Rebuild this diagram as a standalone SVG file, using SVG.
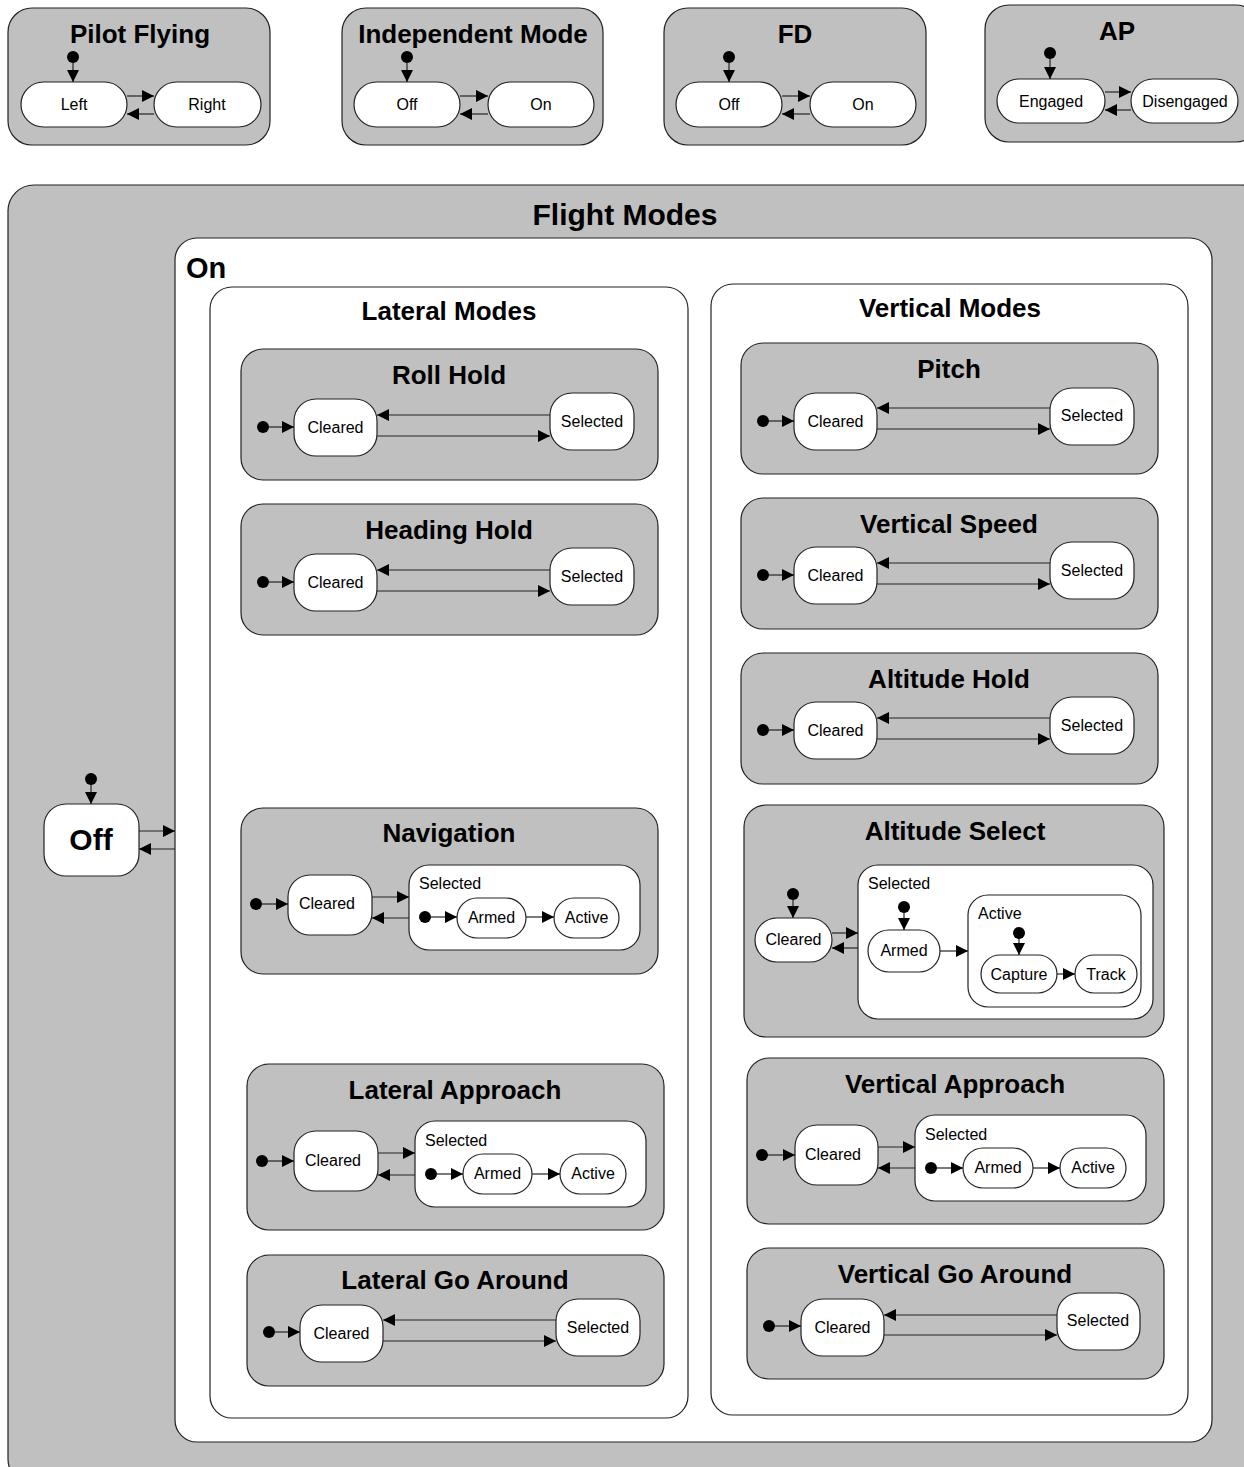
<svg xmlns="http://www.w3.org/2000/svg" width="1244" height="1467" viewBox="0 0 1244 1467">
<style>
.g{fill:#c0c0c0;stroke:#222;stroke-width:1.2}
.w{fill:#fff;stroke:#222;stroke-width:1.2}
.t{font-family:"Liberation Sans",Arial,sans-serif;font-weight:bold;font-size:26px;text-anchor:middle;fill:#000}
.s{font-family:"Liberation Sans",Arial,sans-serif;font-size:16px;text-anchor:middle;fill:#000}
.sl{font-family:"Liberation Sans",Arial,sans-serif;font-size:16px;fill:#000}
.c{stroke:#222;stroke-width:1.2;fill:none;marker-end:url(#a)}
.d{fill:#000}
</style>
<defs>
<marker id="a" markerUnits="userSpaceOnUse" markerWidth="12" markerHeight="12" refX="12" refY="6" orient="auto"><path d="M0,0 L12,6 L0,12 z" fill="#000"/></marker>
</defs>
<rect width="1244" height="1467" fill="#fff"/>

<!-- Top regions -->
<g id="pilot-flying">
<rect class="g" x="8" y="8" width="262" height="137" rx="24"/>
<text class="t" x="140" y="43">Pilot Flying</text>
<g id="pf-left"><rect class="w" x="21" y="82" width="106" height="45" rx="22.5"/><text class="s" x="74" y="110">Left</text></g>
<g id="pf-right"><rect class="w" x="154" y="82" width="107" height="45" rx="22.5"/><text class="s" x="207" y="110">Right</text></g>
</g>
<g id="independent-mode">
<rect class="g" x="342" y="8" width="261" height="137" rx="24"/>
<text class="t" x="473" y="43">Independent Mode</text>
<g id="im-off"><rect class="w" x="354" y="82" width="106" height="45" rx="22.5"/><text class="s" x="407" y="110">Off</text></g>
<g id="im-on"><rect class="w" x="488" y="82" width="106" height="45" rx="22.5"/><text class="s" x="541" y="110">On</text></g>
</g>
<g id="fd">
<rect class="g" x="664" y="8" width="262" height="137" rx="24"/>
<text class="t" x="795" y="43">FD</text>
<g id="fd-off"><rect class="w" x="676" y="82" width="106" height="45" rx="22.5"/><text class="s" x="729" y="110">Off</text></g>
<g id="fd-on"><rect class="w" x="810" y="82" width="106" height="45" rx="22.5"/><text class="s" x="863" y="110">On</text></g>
</g>
<g id="ap">
<rect class="g" x="985" y="5" width="275" height="137" rx="24"/>
<text class="t" x="1117" y="40">AP</text>
<g id="ap-engaged"><rect class="w" x="997" y="79" width="108" height="44" rx="22"/><text class="s" x="1051" y="107">Engaged</text></g>
<g id="ap-disengaged"><rect class="w" x="1131" y="79" width="107" height="44" rx="22"/><text class="s" x="1185" y="107">Disengaged</text></g>
</g>

<!-- Flight Modes -->
<g id="flight-modes">
<rect class="g" x="8" y="185" width="1260" height="1300" rx="26"/>
<text class="t" x="625" y="225" style="font-size:30px">Flight Modes</text>
</g>
<g id="fm-off">
<rect class="w" x="44" y="804" width="95" height="72" rx="22"/>
<text class="t" x="91" y="850" style="font-size:30px">Off</text>
</g>
<g id="fm-on">
<rect class="w" x="175" y="238" width="1037" height="1204" rx="22"/>
<text class="t" x="186" y="278" style="font-size:29px;text-anchor:start">On</text>
</g>
<g id="lateral-modes">
<rect class="w" x="210" y="287" width="478" height="1131" rx="22"/>
<text class="t" x="449" y="320">Lateral Modes</text>
</g>
<g id="vertical-modes">
<rect class="w" x="711" y="284" width="477" height="1131" rx="22"/>
<text class="t" x="950" y="317">Vertical Modes</text>
</g>

<!-- Simple mode boxes -->
<g id="roll-hold" transform="translate(241,349)">
<rect class="g" x="0" y="0" width="417" height="131" rx="22"/>
<text class="t" x="208" y="35">Roll Hold</text>
<circle class="d" cx="22" cy="78" r="6"/>
<g id="rh-cleared"><rect class="w" x="53" y="50" width="83" height="57" rx="22"/><text class="s" x="94.5" y="84">Cleared</text></g>
<g id="rh-selected"><rect class="w" x="309" y="44" width="84" height="57" rx="22"/><text class="s" x="351" y="78">Selected</text></g>
<path class="c" d="M28,78 H53"/><path class="c" d="M309,66 H136"/><path class="c" d="M136,87 H309"/>
</g>
<g id="heading-hold" transform="translate(241,504)">
<rect class="g" x="0" y="0" width="417" height="131" rx="22"/>
<text class="t" x="208" y="35">Heading Hold</text>
<circle class="d" cx="22" cy="78" r="6"/>
<g id="hh-cleared"><rect class="w" x="53" y="50" width="83" height="57" rx="22"/><text class="s" x="94.5" y="84">Cleared</text></g>
<g id="hh-selected"><rect class="w" x="309" y="44" width="84" height="57" rx="22"/><text class="s" x="351" y="78">Selected</text></g>
<path class="c" d="M28,78 H53"/><path class="c" d="M309,66 H136"/><path class="c" d="M136,87 H309"/>
</g>
<g id="lateral-go-around" transform="translate(247,1255)">
<rect class="g" x="0" y="0" width="417" height="131" rx="22"/>
<text class="t" x="208" y="34">Lateral Go Around</text>
<circle class="d" cx="22" cy="77" r="6"/>
<g id="lga-cleared"><rect class="w" x="53" y="50" width="83" height="57" rx="22"/><text class="s" x="94.5" y="84">Cleared</text></g>
<g id="lga-selected"><rect class="w" x="309" y="44" width="84" height="57" rx="22"/><text class="s" x="351" y="78">Selected</text></g>
<path class="c" d="M28,77 H53"/><path class="c" d="M309,65 H136"/><path class="c" d="M136,86 H309"/>
</g>
<g id="pitch" transform="translate(741,343)">
<rect class="g" x="0" y="0" width="417" height="131" rx="22"/>
<text class="t" x="208" y="35">Pitch</text>
<circle class="d" cx="22" cy="78" r="6"/>
<g id="p-cleared"><rect class="w" x="53" y="50" width="83" height="57" rx="22"/><text class="s" x="94.5" y="84">Cleared</text></g>
<g id="p-selected"><rect class="w" x="309" y="45" width="84" height="57" rx="22"/><text class="s" x="351" y="78">Selected</text></g>
<path class="c" d="M28,78 H53"/><path class="c" d="M309,65 H136"/><path class="c" d="M136,86 H309"/>
</g>
<g id="vertical-speed" transform="translate(741,498)">
<rect class="g" x="0" y="0" width="417" height="131" rx="22"/>
<text class="t" x="208" y="35">Vertical Speed</text>
<circle class="d" cx="22" cy="77" r="6"/>
<g id="vs-cleared"><rect class="w" x="53" y="49" width="83" height="57" rx="22"/><text class="s" x="94.5" y="83">Cleared</text></g>
<g id="vs-selected"><rect class="w" x="309" y="44" width="84" height="57" rx="22"/><text class="s" x="351" y="78">Selected</text></g>
<path class="c" d="M28,77 H53"/><path class="c" d="M309,65 H136"/><path class="c" d="M136,86 H309"/>
</g>
<g id="altitude-hold" transform="translate(741,653)">
<rect class="g" x="0" y="0" width="417" height="131" rx="22"/>
<text class="t" x="208" y="35">Altitude Hold</text>
<circle class="d" cx="22" cy="77" r="6"/>
<g id="ah-cleared"><rect class="w" x="53" y="49" width="83" height="57" rx="22"/><text class="s" x="94.5" y="83">Cleared</text></g>
<g id="ah-selected"><rect class="w" x="309" y="44" width="84" height="57" rx="22"/><text class="s" x="351" y="78">Selected</text></g>
<path class="c" d="M28,77 H53"/><path class="c" d="M309,65 H136"/><path class="c" d="M136,86 H309"/>
</g>
<g id="vertical-go-around" transform="translate(747,1248)">
<rect class="g" x="0" y="0" width="417" height="131" rx="22"/>
<text class="t" x="208" y="35">Vertical Go Around</text>
<circle class="d" cx="22" cy="78" r="6"/>
<g id="vga-cleared"><rect class="w" x="54" y="51" width="83" height="57" rx="22"/><text class="s" x="95.5" y="85">Cleared</text></g>
<g id="vga-selected"><rect class="w" x="310" y="45" width="83" height="57" rx="22"/><text class="s" x="351" y="78">Selected</text></g>
<path class="c" d="M28,78 H54"/><path class="c" d="M310,67 H137"/><path class="c" d="M137,87 H310"/>
</g>

<!-- Composite mode boxes -->
<g id="navigation" transform="translate(241,808)">
<rect class="g" x="0" y="0" width="417" height="166" rx="22"/>
<text class="t" x="208" y="34">Navigation</text>
<circle class="d" cx="15" cy="96" r="6"/>
<g id="nav-cleared"><rect class="w" x="47" y="67" width="84" height="60" rx="22"/><text class="s" x="86" y="101">Cleared</text></g>
<g id="nav-selected"><rect class="w" x="168" y="57" width="231" height="85" rx="20"/><text class="sl" x="178" y="81">Selected</text>
<circle class="d" cx="184" cy="109" r="6"/>
<g id="nav-armed"><rect class="w" x="216" y="90" width="69" height="40" rx="20"/><text class="s" x="250.5" y="115">Armed</text></g>
<g id="nav-active"><rect class="w" x="313" y="90" width="65" height="40" rx="20"/><text class="s" x="345.5" y="115">Active</text></g>
<path class="c" d="M190,109 H216"/><path class="c" d="M285,109 H313"/></g>
<path class="c" d="M21,96 H47"/><path class="c" d="M131,89 H168"/><path class="c" d="M168,110 H131"/>
</g>
<g id="lateral-approach" transform="translate(247,1064)">
<rect class="g" x="0" y="0" width="417" height="166" rx="22"/>
<text class="t" x="208" y="35">Lateral Approach</text>
<circle class="d" cx="15" cy="97" r="6"/>
<g id="la-cleared"><rect class="w" x="47" y="67" width="84" height="60" rx="22"/><text class="s" x="86" y="102">Cleared</text></g>
<g id="la-selected"><rect class="w" x="168" y="57" width="231" height="86" rx="20"/><text class="sl" x="178" y="82">Selected</text>
<circle class="d" cx="184" cy="110" r="6"/>
<g id="la-armed"><rect class="w" x="216" y="90" width="69" height="40" rx="20"/><text class="s" x="250.5" y="115">Armed</text></g>
<g id="la-active"><rect class="w" x="313" y="90" width="66" height="40" rx="20"/><text class="s" x="346" y="115">Active</text></g>
<path class="c" d="M190,110 H216"/><path class="c" d="M285,110 H313"/></g>
<path class="c" d="M21,97 H47"/><path class="c" d="M131,89 H168"/><path class="c" d="M168,111 H131"/>
</g>
<g id="vertical-approach" transform="translate(747,1058)">
<rect class="g" x="0" y="0" width="417" height="166" rx="22"/>
<text class="t" x="208" y="35">Vertical Approach</text>
<circle class="d" cx="15" cy="97" r="6"/>
<g id="va-cleared"><rect class="w" x="48" y="67" width="83" height="60" rx="22"/><text class="s" x="86" y="102">Cleared</text></g>
<g id="va-selected"><rect class="w" x="168" y="57" width="231" height="86" rx="20"/><text class="sl" x="178" y="82">Selected</text>
<circle class="d" cx="184" cy="110" r="6"/>
<g id="va-armed"><rect class="w" x="216" y="90" width="70" height="40" rx="20"/><text class="s" x="251" y="115">Armed</text></g>
<g id="va-active"><rect class="w" x="313" y="90" width="66" height="40" rx="20"/><text class="s" x="346" y="115">Active</text></g>
<path class="c" d="M190,110 H216"/><path class="c" d="M286,110 H313"/></g>
<path class="c" d="M21,97 H48"/><path class="c" d="M131,89 H168"/><path class="c" d="M168,110 H131"/>
</g>
<g id="altitude-select" transform="translate(744,805)">
<rect class="g" x="0" y="0" width="420" height="232" rx="22"/>
<text class="t" x="211" y="35">Altitude Select</text>
<circle class="d" cx="49" cy="89" r="6"/>
<g id="as-cleared"><rect class="w" x="11" y="113" width="77" height="44" rx="22"/><text class="s" x="49.5" y="140">Cleared</text></g>
<g id="as-selected"><rect class="w" x="114" y="60" width="295" height="154" rx="20"/><text class="sl" x="124" y="84">Selected</text>
<circle class="d" cx="160" cy="102" r="6"/>
<g id="as-armed"><rect class="w" x="124" y="125" width="72" height="42" rx="21"/><text class="s" x="160" y="151">Armed</text></g>
<g id="as-active"><rect class="w" x="224" y="90" width="173" height="112" rx="20"/><text class="sl" x="234" y="114">Active</text>
<circle class="d" cx="275" cy="128" r="6"/>
<g id="as-capture"><rect class="w" x="237" y="150" width="76" height="38" rx="19"/><text class="s" x="275" y="175">Capture</text></g>
<g id="as-track"><rect class="w" x="331" y="150" width="62" height="38" rx="19"/><text class="s" x="362" y="175">Track</text></g>
<path class="c" d="M275,134 V150"/><path class="c" d="M313,169 H331"/></g>
<path class="c" d="M160,108 V125"/><path class="c" d="M196,146 H224"/></g>
<path class="c" d="M49,95 V113"/><path class="c" d="M88,128 H114"/><path class="c" d="M114,143 H88"/>
</g>

<!-- Top-level connectors -->
<g id="connectors">
<circle class="d" cx="73" cy="57" r="6"/><path class="c" d="M73,63 V82"/>
<path class="c" d="M127,96 H154"/><path class="c" d="M154,114 H127"/>
<circle class="d" cx="407" cy="57" r="6"/><path class="c" d="M407,63 V82"/>
<path class="c" d="M460,96 H488"/><path class="c" d="M488,114 H460"/>
<circle class="d" cx="729" cy="57" r="6"/><path class="c" d="M729,63 V82"/>
<path class="c" d="M782,96 H810"/><path class="c" d="M810,114 H782"/>
<circle class="d" cx="1050" cy="53" r="6"/><path class="c" d="M1050,59 V79"/>
<path class="c" d="M1105,92 H1131"/><path class="c" d="M1131,110 H1105"/>
<circle class="d" cx="91" cy="779" r="6"/><path class="c" d="M91,785 V804"/>
<path class="c" d="M139,831 H175"/><path class="c" d="M175,849 H139"/>
</g>
</svg>
